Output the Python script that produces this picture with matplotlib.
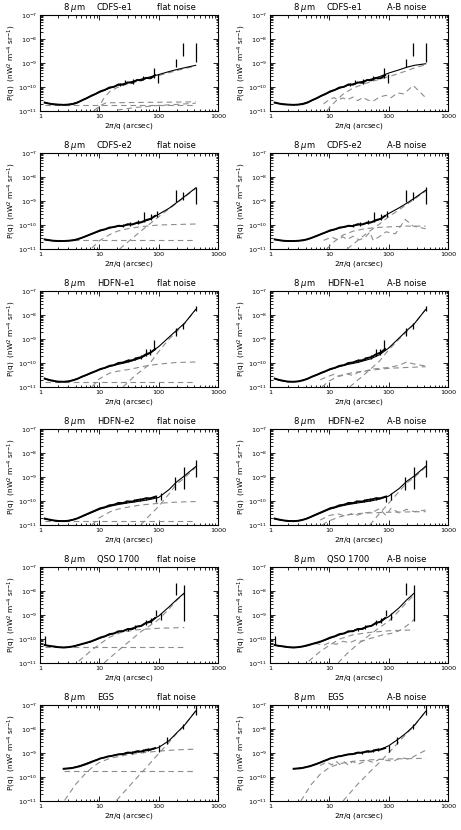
import numpy as np
import matplotlib
matplotlib.use("Agg")
import matplotlib.pyplot as plt
from matplotlib.ticker import LogLocator, FixedLocator, NullFormatter

# all power values below are in units of 1e-11 nW^2 m^-4 sr^-1
UNIT = 1e-11

FIELDS = ["CDFS-e1", "CDFS-e2", "HDFN-e1", "HDFN-e2", "QSO 1700", "EGS"]

DATA_X = [1.2, 1.4, 1.7, 2.0, 2.5, 3.0, 3.6, 4.3, 5.1, 6.1, 7.3, 8.7, 10.4,
          12.4, 14.8, 17.7, 21, 25, 30, 36, 43, 51, 61, 73, 87]
DATA_X_EGS = [2.5, 2.8, 3.2, 3.6, 4.1, 4.7, 5.3, 6.1, 7.0, 8.0, 9.2, 10.5, 12,
              14, 16, 18.5, 21, 25, 30, 36, 43, 51, 61, 73, 87]
FIT_X = [1.2, 1.5, 2, 3, 4, 5, 7, 10, 15, 20, 30, 50, 70, 100, 150, 200, 270, 420]
FIT_X_QSO = [1.2, 1.5, 2, 3, 4, 5, 7, 10, 15, 20, 30, 50, 70, 100, 150, 200, 270]
FIT_X_EGS = [2.5, 3, 4, 5, 7, 10, 15, 20, 30, 50, 70, 100, 150, 200, 270, 420]

# measured power spectra (same for both noise models)
CDFS_E1_DATA = [2.25, 2.05, 1.9, 1.85, 1.8, 1.85, 1.95, 2.25, 2.8, 3.4, 4.3, 5.2, 6.6,
                7.6, 9.5, 10.2, 12.8, 12.5, 15.5, 15.0, 19.5, 19.0, 24, 23, 31]
CDFS_E2_DATA = [2.5, 2.35, 2.2, 2.15, 2.15, 2.2, 2.3, 2.55, 2.95, 3.5, 4.2, 5.0, 6.0,
                6.6, 7.8, 8.3, 9.3, 9.0, 10.8, 10.5, 12.5, 13, 16, 18, 24]
HDFN_E1_DATA = [2.25, 2.0, 1.8, 1.68, 1.65, 1.72, 1.9, 2.2, 2.7, 3.2, 3.9, 4.6, 5.6,
                6.3, 7.6, 8.2, 10, 10.5, 12.5, 13, 16, 17.5, 23, 27, 38]
HDFN_E2_DATA = [1.85, 1.7, 1.55, 1.48, 1.45, 1.5, 1.65, 1.9, 2.3, 2.8, 3.4, 4.1, 5.0,
                5.5, 6.6, 7.0, 8.3, 8.2, 9.6, 9.5, 11, 11.5, 13, 13, 15]
QSO_DATA = [5.6, 5.2, 4.9, 4.6, 4.4, 4.6, 4.9, 5.5, 6.2, 7.0, 8.0, 9.5, 11.5,
            13, 16, 17, 21, 21, 26, 26, 33, 35, 47, 52, 75]
EGS_DATA = [22, 22.5, 23, 24, 26, 28, 31, 35, 40, 46, 52, 60, 64,
            72, 75, 82, 88, 90, 104, 102, 118, 115, 135, 140, 160]

# error bars: x, lower end, upper end
CDFS_E1_ERR_X = [22, 27, 37, 55, 82, 97, 195, 260, 420]
CDFS_E1_ERR_LO = [11, 12.9, 13.8, 19, 24, 15, 68, 190, 110]
CDFS_E1_ERR_HI = [15, 19, 21, 28, 62, 36, 150, 680, 680]
CDFS_E2_ERR_X = [25, 33, 45, 57, 75, 95, 195, 260, 420]
CDFS_E2_ERR_LO = [8.5, 9.5, 11, 13, 15.6, 22, 91, 110, 77]
CDFS_E2_ERR_HI = [11, 13, 16, 35, 28, 40, 280, 240, 380]
HDFN_E1_ERR_X = [30, 40, 50, 60, 72, 85, 195, 260, 420]
HDFN_E1_ERR_LO = [10.5, 13, 15, 19, 22, 34, 130, 250, 1500]
HDFN_E1_ERR_HI = [14, 18, 22, 40, 40, 88, 280, 450, 2300]
HDFN_E2_ERR_X = [28, 38, 48, 60, 90, 110, 190, 265, 420]
HDFN_E2_ERR_LO = [8, 9, 10, 11, 9.1, 10.5, 28, 33, 100]
HDFN_E2_ERR_HI = [11, 12, 13, 15, 17, 22, 100, 260, 525]
QSO_ERR_X = [1.2, 30, 40, 60, 75, 90, 110, 195, 270]
QSO_ERR_LO = [5.5, 22, 27, 40, 45, 88, 64, 700, 54]
QSO_ERR_HI = [13, 30, 38, 60, 75, 166, 120, 2100, 1800]
EGS_ERR_X = [27, 35, 45, 55, 65, 100, 140, 255, 420]
EGS_ERR_LO = [90, 95, 105, 115, 120, 110, 230, 1030, 3700]
EGS_ERR_HI = [110, 118, 132, 145, 160, 210, 460, 1670, 9600]

# model fits
CDFS_E1_FIT_FLAT = [2.2, 2.0, 1.85, 1.85, 2.2, 2.7, 4.0, 6.0, 9.0, 11.5, 15, 21, 26, 33, 44, 53, 63, 80]
CDFS_E1_FIT_AB = [2.2, 2.0, 1.85, 1.85, 2.2, 2.7, 4.0, 6.0, 9.0, 11.5, 15, 21, 27, 38, 52, 66, 80, 93]
CDFS_E2_FIT_FLAT = [2.5, 2.25, 2.15, 2.2, 2.45, 2.9, 4.0, 5.5, 7.5, 8.7, 10, 12.5, 17, 28, 50, 85, 150, 350]
CDFS_E2_FIT_AB = [2.5, 2.25, 2.15, 2.2, 2.45, 2.9, 4.0, 5.5, 7.5, 8.7, 10, 12.5, 17, 30, 52, 80, 130, 280]
HDFN_E1_FIT_FLAT = [2.2, 1.85, 1.65, 1.7, 2.1, 2.6, 3.6, 5.2, 7.2, 8.6, 10.8, 16, 25, 48, 120, 230, 440, 1700]
HDFN_E1_FIT_AB = [2.2, 1.85, 1.65, 1.7, 2.1, 2.6, 3.6, 5.2, 7.2, 8.6, 10.5, 15, 22, 42, 110, 220, 430, 1700]
HDFN_E2_FIT_FLAT = [1.8, 1.6, 1.45, 1.5, 1.8, 2.2, 3.1, 4.5, 6.0, 7.0, 8.3, 10, 11.5, 14, 30, 62, 110, 270]
HDFN_E2_FIT_AB = [1.8, 1.6, 1.45, 1.5, 1.8, 2.2, 3.1, 4.5, 6.0, 7.0, 8.3, 10, 12, 16, 33, 65, 110, 280]
QSO_FIT_FLAT = [5.5, 5.0, 4.5, 4.5, 5.2, 6.0, 7.5, 10.5, 15, 19, 25, 36, 55, 90, 220, 430, 820]
QSO_FIT_AB = [5.5, 5.0, 4.5, 4.5, 5.2, 6.0, 7.5, 10.5, 15, 19, 25, 35, 52, 85, 200, 420, 820]
EGS_FIT_FLAT = [22, 23, 26, 31, 42, 57, 74, 85, 98, 115, 130, 170, 330, 680, 1400, 5600]
EGS_FIT_AB = [22, 23, 26, 30, 40, 58, 75, 85, 100, 115, 135, 200, 400, 700, 1400, 5400]

# dashed model components: (x, y) pairs
CDFS_E1_FLAT_COMPS = [
    ([1.2, 420], [1.8, 1.8]),
    ([8, 10, 13, 420], [1.0, 1.6, 2.2, 2.4]),
    ([20, 40, 100, 420], [1.1, 1.4, 1.7, 2.1]),
    ([9, 12, 15, 20, 30, 50, 100, 200, 420], [1.0, 3.5, 6.5, 9.5, 13.5, 19, 30, 48, 75]),
]
CDFS_E1_AB_COMPS = [
    ([8, 10, 12, 14, 17, 20, 25, 30, 37, 45, 55, 70, 90, 110, 140, 180, 260, 420],
     [2.0, 3.0, 3.6, 2.9, 3.5, 2.9, 3.8, 2.7, 3.7, 2.8, 2.6, 3.8, 4.5, 3.6, 5.6, 5.2, 11.5, 3.6]),
    ([9, 12, 17, 25, 40, 70, 120, 200, 270, 420], [1.0, 2.2, 5, 9, 14, 21, 31, 47, 62, 85]),
]
CDFS_E2_FLAT_COMPS = [
    ([1.2, 420], [2.3, 2.3]),
    ([7.5, 10, 15, 20, 30, 50, 100, 200, 420], [1.1, 2.2, 4.0, 5.5, 7.0, 8.5, 10, 10.5, 11]),
    ([22, 40, 60, 100, 200, 420], [1.0, 3.5, 8, 22, 80, 330]),
]
CDFS_E2_AB_COMPS = [
    ([8, 11, 14, 17, 20, 25, 32, 40, 48, 55, 70, 90, 130, 190, 260, 420],
     [2.3, 3.1, 2.4, 3.2, 2.5, 3.4, 2.4, 3.0, 5.0, 2.3, 3.3, 5.2, 4.3, 17, 9, 7]),
    ([9, 12, 17, 25, 40, 70, 120, 200, 420], [1.0, 2.0, 3.8, 5.5, 7, 8, 8.5, 9, 9]),
    ([20, 40, 70, 100, 200, 420], [1.0, 4, 11, 22, 70, 260]),
]
HDFN_E1_FLAT_COMPS = [
    ([1.2, 420], [1.6, 1.6]),
    ([7.5, 10, 15, 20, 33, 60, 100, 200, 420], [1.0, 2.2, 3.8, 4.5, 5.5, 7.5, 9, 10.5, 11]),
    ([25, 40, 67, 100, 150, 200, 270, 420], [1.0, 3, 8, 30, 100, 200, 420, 1700]),
]
HDFN_E1_AB_COMPS = [
    ([7, 9, 12, 15, 20, 25, 30, 40, 50, 70, 100, 150, 200, 270, 420],
     [2.0, 2.6, 3.4, 2.8, 3.5, 3.0, 4.0, 4.5, 5.5, 6.0, 6.5, 8.0, 11, 9, 7.5]),
    ([7.5, 10, 15, 25, 50, 100, 200, 420], [1.0, 1.8, 3.0, 4.0, 5.0, 6.0, 6.5, 7.0]),
    ([22, 40, 70, 100, 150, 200, 270, 420], [1.0, 3.5, 12, 35, 100, 200, 420, 1700]),
]
HDFN_E2_FLAT_COMPS = [
    ([1.2, 420], [1.4, 1.4]),
    ([7.5, 10, 15, 20, 30, 50, 100, 200, 420], [1.0, 2.0, 3.5, 4.5, 5.5, 6.8, 8.0, 9.0, 9.5]),
    ([50, 70, 100, 150, 200, 270, 420], [1.0, 2.5, 6, 20, 50, 90, 250]),
]
HDFN_E2_AB_COMPS = [
    ([7, 10, 14, 18, 24, 30, 40, 55, 70, 90, 110, 150, 200, 270, 420],
     [1.6, 2.5, 2.9, 2.4, 3.0, 2.6, 3.2, 3.5, 4.8, 2.5, 5.0, 3.2, 4.5, 3.6, 4.2]),
    ([7.5, 10, 15, 20, 30, 50, 100, 200, 420], [1.0, 1.5, 2.2, 2.6, 3.0, 3.2, 3.4, 3.5, 3.6]),
    ([48, 70, 100, 150, 200, 270, 420], [1.0, 3, 8, 25, 55, 95, 260]),
]
QSO_FLAT_COMPS = [
    ([1.2, 270], [4.5, 4.5]),
    ([4.5, 7, 10, 15, 25, 50, 100, 270], [1.2, 3.0, 6, 12, 20, 25, 28, 30]),
    ([12, 20, 30, 50, 70, 100, 150, 200, 270], [1.0, 3, 7, 20, 35, 65, 180, 400, 780]),
]
QSO_AB_COMPS = [
    ([4, 6, 8, 10, 13, 17, 22, 28, 35, 45, 60, 80, 110, 150, 200, 270],
     [5, 6.5, 5.5, 7, 6, 8, 7, 9, 8, 10, 12, 15, 17, 22, 35, 65]),
    ([4.5, 7, 10, 15, 25, 50, 100, 270], [1.2, 3.0, 5.5, 10, 15, 19, 22, 24]),
    ([14, 20, 30, 50, 70, 100, 150, 200, 270], [1.0, 2.5, 6, 16, 30, 55, 150, 330, 700]),
]
EGS_FLAT_COMPS = [
    ([2.5, 420], [18, 18]),
    ([2.6, 4, 6, 8, 10, 15, 30, 60, 100, 200, 420], [1.06, 5, 15, 28, 40, 60, 85, 105, 120, 135, 145]),
    ([19.5, 30, 50, 70, 100, 150, 200, 270, 420], [1.06, 3.5, 14, 35, 95, 280, 640, 1400, 5500]),
]
EGS_AB_COMPS = [
    ([7, 9, 11, 13, 15, 18, 21, 25, 30, 37, 45, 55, 70, 90, 120, 160, 220, 300, 420],
     [30, 42, 32, 45, 33, 43, 31, 45, 33, 42, 48, 40, 55, 50, 45, 65, 55, 85, 130]),
    ([3.3, 5, 7, 10, 15, 25, 50, 100, 200, 420], [1.0, 5, 13, 25, 36, 45, 52, 56, 58, 60]),
    ([17, 30, 50, 70, 100, 150, 200, 270, 420], [1.0, 5, 18, 40, 100, 300, 640, 1350, 5400]),
]

rows = [
    (DATA_X, CDFS_E1_DATA, FIT_X, CDFS_E1_FIT_FLAT, CDFS_E1_FIT_AB,
     (CDFS_E1_ERR_X, CDFS_E1_ERR_LO, CDFS_E1_ERR_HI), CDFS_E1_FLAT_COMPS, CDFS_E1_AB_COMPS),
    (DATA_X, CDFS_E2_DATA, FIT_X, CDFS_E2_FIT_FLAT, CDFS_E2_FIT_AB,
     (CDFS_E2_ERR_X, CDFS_E2_ERR_LO, CDFS_E2_ERR_HI), CDFS_E2_FLAT_COMPS, CDFS_E2_AB_COMPS),
    (DATA_X, HDFN_E1_DATA, FIT_X, HDFN_E1_FIT_FLAT, HDFN_E1_FIT_AB,
     (HDFN_E1_ERR_X, HDFN_E1_ERR_LO, HDFN_E1_ERR_HI), HDFN_E1_FLAT_COMPS, HDFN_E1_AB_COMPS),
    (DATA_X, HDFN_E2_DATA, FIT_X, HDFN_E2_FIT_FLAT, HDFN_E2_FIT_AB,
     (HDFN_E2_ERR_X, HDFN_E2_ERR_LO, HDFN_E2_ERR_HI), HDFN_E2_FLAT_COMPS, HDFN_E2_AB_COMPS),
    (DATA_X, QSO_DATA, FIT_X_QSO, QSO_FIT_FLAT, QSO_FIT_AB,
     (QSO_ERR_X, QSO_ERR_LO, QSO_ERR_HI), QSO_FLAT_COMPS, QSO_AB_COMPS),
    (DATA_X_EGS, EGS_DATA, FIT_X_EGS, EGS_FIT_FLAT, EGS_FIT_AB,
     (EGS_ERR_X, EGS_ERR_LO, EGS_ERR_HI), EGS_FLAT_COMPS, EGS_AB_COMPS),
]

W, H = 461, 830
plt.rcParams["font.family"] = "DejaVu Sans"
plt.rcParams["mathtext.fontset"] = "dejavusans"
fig = plt.figure(figsize=(W / 100, H / 100), dpi=100)
GRAY = "#8c8c8c"


def style_axes(ax):
    ax.set_xscale("log")
    ax.set_yscale("log")
    ax.set_xlim(1, 1000)
    ax.set_ylim(1e-11, 1e-7)
    ax.xaxis.set_major_locator(FixedLocator([1, 10, 100, 1000]))
    ax.set_xticklabels(["1", "10", "100", "1000"])
    ax.xaxis.set_minor_locator(LogLocator(base=10, subs=np.arange(2, 10)))
    ax.xaxis.set_minor_formatter(NullFormatter())
    ax.yaxis.set_major_locator(FixedLocator([1e-11, 1e-10, 1e-9, 1e-8, 1e-7]))
    ax.set_yticklabels([r"10$^{-11}$", r"10$^{-10}$", r"10$^{-9}$", r"10$^{-8}$", r"10$^{-7}$"])
    ax.yaxis.set_minor_locator(LogLocator(base=10, subs=np.arange(2, 10)))
    ax.yaxis.set_minor_formatter(NullFormatter())
    ax.tick_params(which="both", direction="in", top=True, right=True,
                   labelsize=4.6, width=0.6, pad=2)
    ax.tick_params(which="major", length=3.5)
    ax.tick_params(which="minor", length=1.8)
    for s in ax.spines.values():
        s.set_linewidth(0.8)
    ax.set_xlabel(r"2$\pi$/q (arcsec)", fontsize=5.3, labelpad=1.5)
    ax.set_ylabel(r"P(q)  (nW$^2$ m$^{-4}$ sr$^{-1}$)", fontsize=5.3)
    ax.yaxis.set_label_coords(-0.125, 0.5)


for i, (dx, dy, fx, fit_flat, fit_ab, err, comps_flat, comps_ab) in enumerate(rows):
    for j in range(2):
        left = (40 if j == 0 else 270) / W
        bottom = 1 - (15 + 138 * i + 96) / H
        ax = fig.add_axes([left, bottom, 178 / W, 96 / H])
        comps = comps_flat if j == 0 else comps_ab
        fit = fit_flat if j == 0 else fit_ab
        for cx, cy in comps:
            ax.plot(cx, np.array(cy) * UNIT, color=GRAY, lw=0.8, dashes=(5, 3.5))
        ax.plot(dx, np.array(dy) * UNIT, color="black", lw=1.4)
        ax.plot(fx, np.array(fit) * UNIT, color="black", lw=0.8)
        ex, elo, ehi = err
        ax.vlines(ex, np.array(elo) * UNIT, np.array(ehi) * UNIT, color="black", lw=0.9)
        style_axes(ax)
        ty = 1.055
        ax.text(0.13, ty, r"8 $\mu$m", transform=ax.transAxes, fontsize=6, va="baseline")
        ax.text(0.32, ty, FIELDS[i], transform=ax.transAxes, fontsize=6, va="baseline")
        ax.text(0.66, ty, "flat noise" if j == 0 else "A-B noise",
                transform=ax.transAxes, fontsize=6, va="baseline")

fig.savefig("out.png", dpi=100)
